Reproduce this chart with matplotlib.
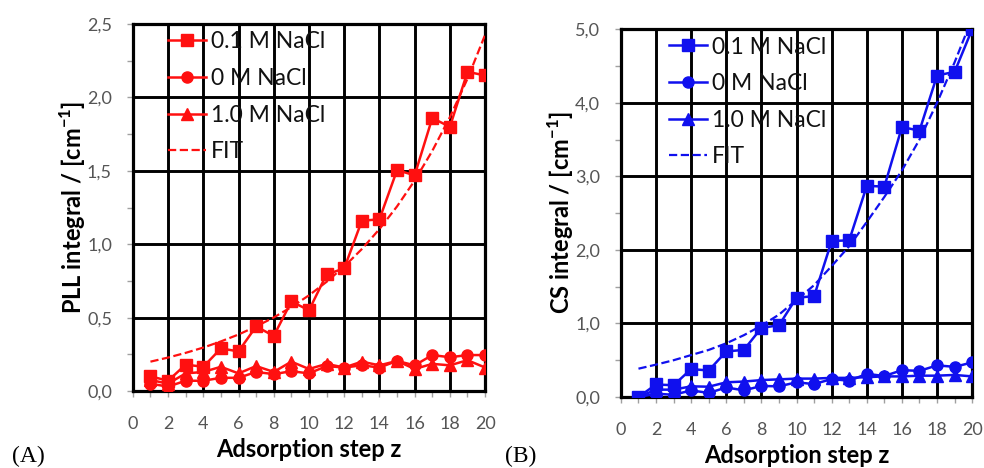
import matplotlib
matplotlib.use("Agg")
import matplotlib.pyplot as plt
from matplotlib.ticker import MultipleLocator, FuncFormatter

plt.rcParams['font.family'] = ['Lato', 'DejaVu Sans']

steps = list(range(1, 21))

# panel A: PLL integral
pll_01 = [0.10, 0.07, 0.18, 0.165, 0.29, 0.27, 0.44, 0.375, 0.61, 0.55,
          0.795, 0.835, 1.16, 1.17, 1.505, 1.47, 1.86, 1.80, 2.175, 2.15]
pll_0 = [0.05, 0.03, 0.07, 0.07, 0.09, 0.09, 0.13, 0.115, 0.135, 0.12,
         0.17, 0.16, 0.175, 0.16, 0.205, 0.175, 0.245, 0.23, 0.245, 0.245]
pll_10 = [0.075, 0.05, 0.12, 0.13, 0.165, 0.12, 0.17, 0.13, 0.20, 0.15,
          0.185, 0.16, 0.20, 0.175, 0.205, 0.15, 0.185, 0.175, 0.21, 0.16]
pll_fit = [0.200, 0.228, 0.260, 0.296, 0.338, 0.385, 0.440, 0.501, 0.572, 0.652,
           0.744, 0.848, 0.967, 1.103, 1.258, 1.434, 1.636, 1.866, 2.128, 2.427]

# panel B: CS integral
cs_01 = [0.0, 0.17, 0.16, 0.38, 0.36, 0.62, 0.64, 0.94, 0.975, 1.35,
         1.37, 2.12, 2.13, 2.87, 2.86, 3.67, 3.62, 4.37, 4.42, 5.0]
cs_0 = [0.0, 0.045, 0.03, 0.09, 0.055, 0.13, 0.09, 0.15, 0.145, 0.20,
        0.175, 0.245, 0.22, 0.315, 0.285, 0.365, 0.355, 0.43, 0.41, 0.47]
cs_10 = [0.0, 0.10, 0.10, 0.145, 0.14, 0.20, 0.21, 0.23, 0.24, 0.25,
         0.25, 0.26, 0.26, 0.27, 0.28, 0.28, 0.29, 0.29, 0.30, 0.28]
cs_fit = [0.385, 0.44, 0.50, 0.57, 0.64, 0.73, 0.84, 0.97, 1.12, 1.32,
          1.52, 1.78, 2.05, 2.38, 2.72, 3.08, 3.50, 4.00, 4.55, 5.15]

labels = ['0.1 M NaCl', '0 M NaCl', '1.0 M NaCl', 'FIT']


def comma(v, pos):
    return '{:.1f}'.format(v).replace('.', ',')


def panel(ax, s01, s0, s10, fit, color, ymax, ystep, ylabel, legx):
    ax.plot(steps, s01, '-s', color=color, lw=1.8, ms=9, label=labels[0], zorder=5)
    ax.plot(steps, s0, '-o', color=color, lw=1.8, ms=8, label=labels[1], zorder=4)
    ax.plot(steps, s10, '-^', color=color, lw=1.8, ms=8, label=labels[2], zorder=4)
    ax.plot(steps, fit, '--', color=color, lw=1.6, label=labels[3], zorder=3)
    ax.set_xlim(0, 20)
    ax.set_ylim(0, ymax)
    ax.xaxis.set_major_locator(MultipleLocator(2))
    ax.xaxis.set_minor_locator(MultipleLocator(1))
    ax.yaxis.set_major_locator(MultipleLocator(ystep))
    ax.yaxis.set_minor_locator(MultipleLocator(ystep / 2))
    ax.yaxis.set_major_formatter(FuncFormatter(comma))
    ax.grid(True, which='major', color='black', lw=2.1, zorder=1)
    ax.set_axisbelow(True)
    for sp in ax.spines.values():
        sp.set_linewidth(2.3)
    ax.tick_params(which='both', colors='#a0a0a0', labelcolor='#555555',
                   labelsize=13, length=4, width=1)
    ax.tick_params(axis='x', which='major', pad=14)
    ax.tick_params(axis='y', which='major', pad=11)
    ax.set_xlabel('Adsorption step z', fontsize=17, fontweight='bold', labelpad=4)
    ax.set_ylabel(ylabel, fontsize=17, fontweight='bold', labelpad=-1)
    leg = ax.legend(loc='upper left', bbox_to_anchor=(legx, 0.98), frameon=False,
                    fontsize=16.5, handlelength=1.65, handletextpad=0.22,
                    labelspacing=0.68, borderaxespad=0.0, borderpad=0.0)
    for t in leg.get_texts():
        t.set_color('#111111')


fig = plt.figure(figsize=(9.84, 4.68), dpi=100)
ax1 = fig.add_axes([0.135, 0.1645, 0.358, 0.784])
ax2 = fig.add_axes([0.631, 0.1517, 0.357, 0.786])

panel(ax1, pll_01, pll_0, pll_10, pll_fit, '#ff1010', 2.5, 0.5,
      'PLL integral / [cm$^{\\mathregular{-1}}$]', 0.10)
panel(ax2, cs_01, cs_0, cs_10, cs_fit, '#1010ee', 5.0, 1.0,
      'CS integral / [cm$^{\\mathregular{-1}}$]', 0.137)

fig.text(0.012, 0.012, '(A)', family='Liberation Serif', fontsize=17)
fig.text(0.513, 0.012, '(B)', family='Liberation Serif', fontsize=17)

fig.savefig('out.png', dpi=100)
